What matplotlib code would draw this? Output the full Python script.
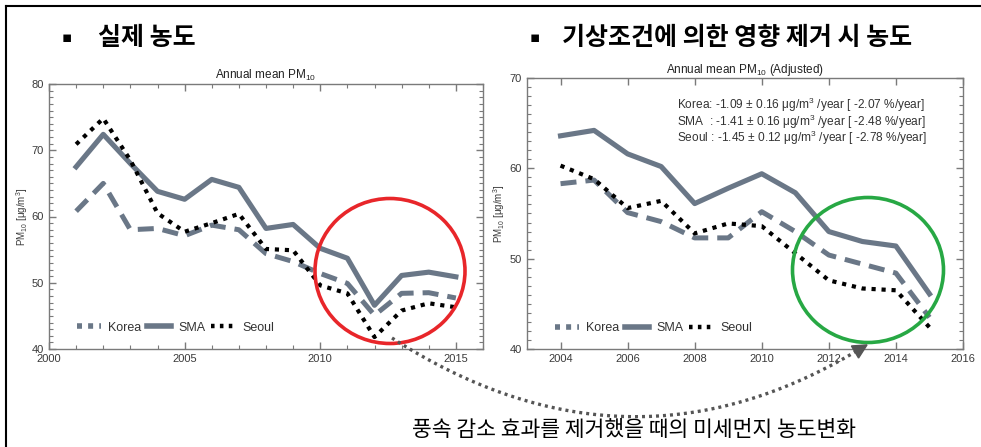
import numpy as np
import matplotlib.pyplot as plt
from matplotlib.patches import Ellipse, Polygon
from matplotlib.lines import Line2D
from matplotlib.ticker import MultipleLocator

plt.rcParams['font.family'] = ['Liberation Sans', 'DejaVu Sans']
plt.rcParams['mathtext.fontset'] = 'custom'
plt.rcParams['mathtext.rm'] = 'Liberation Sans'
plt.rcParams['mathtext.it'] = 'Liberation Sans:italic'
plt.rcParams['mathtext.bf'] = 'Liberation Sans:bold'

# 실제 농도 (연평균 PM10)
years_obs = list(range(2001, 2016))
korea_obs = [60.8, 65.0, 58.0, 58.2, 57.1, 58.7, 58.0, 54.4, 53.2, 51.4, 49.9, 45.1, 48.4, 48.5, 47.7]
sma_obs = [67.5, 72.4, 68.0, 63.8, 62.6, 65.6, 64.4, 58.2, 58.8, 55.2, 53.7, 46.6, 51.1, 51.6, 50.9]
seoul_obs = [70.9, 74.8, 68.5, 60.5, 57.7, 59.0, 60.4, 55.1, 54.9, 49.6, 48.4, 41.8, 45.8, 46.9, 46.3]

# 기상조건 영향 제거 후 농도
years_adj = list(range(2004, 2016))
korea_adj = [58.3, 58.7, 55.1, 54.1, 52.3, 52.3, 55.2, 53.0, 50.4, 49.4, 48.4, 43.5]
sma_adj = [63.6, 64.2, 61.6, 60.2, 56.1, 57.8, 59.4, 57.3, 53.0, 51.9, 51.4, 46.1]
seoul_adj = [60.3, 58.8, 55.6, 56.4, 52.8, 53.9, 53.6, 50.6, 47.6, 46.7, 46.5, 42.4]

series_names = ['Korea', 'SMA', 'Seoul']
trend_lines = [
    'Korea: -1.09 ± 0.16 μg/m$^3$ /year [ -2.07 %/year]',
    'SMA  : -1.41 ± 0.16 μg/m$^3$ /year [ -2.48 %/year]',
    'Seoul : -1.45 ± 0.12 μg/m$^3$ /year [ -2.78 %/year]',
]

W, H = 981, 447
grey = '#6a7787'
kr_font = ['Noto Sans CJK KR', 'DejaVu Sans']

fig = plt.figure(figsize=(W / 100, H / 100), dpi=100)
fig.patch.set_facecolor('white')


def add_axes_px(x0, y0, x1, y1):
    return fig.add_axes([x0 / W, 1 - y1 / H, (x1 - x0) / W, (y1 - y0) / H])


def style_axes(ax):
    for s in ax.spines.values():
        s.set_color('#7a7a7a')
        s.set_linewidth(1.0)
    ax.tick_params(which='both', direction='in', top=True, right=True,
                   colors='#7a7a7a', labelcolor='#3a3a3a', labelsize=8)
    ax.tick_params(which='major', length=5, width=1)
    ax.tick_params(which='minor', length=3, width=0.8)
    ax.yaxis.set_minor_locator(MultipleLocator(1))
    ax.set_ylabel('PM$_{10}$ [μg/m$^3$]', fontsize=7, color='#3a3a3a')


def draw_series(ax, years, korea, sma, seoul):
    ax.plot(years, korea, color=grey, lw=3.6, dashes=(3.2, 1.8))
    ax.plot(years, sma, color=grey, lw=3.7)
    ax.plot(years, seoul, color='black', lw=3.0, dashes=(1.0, 1.4))
    handles = [Line2D([], [], color=grey, lw=4, dashes=(0.9, 1.1)),
               Line2D([], [], color=grey, lw=4),
               Line2D([], [], color='black', lw=3.2, dashes=(0.8, 1.2))]
    return handles


def add_legend(ax, handles, y):
    ax.legend(handles, series_names, ncol=3, frameon=False, loc='center left',
              bbox_to_anchor=(0.064, y), handlelength=1.9, handletextpad=0.6,
              columnspacing=0.45, fontsize=9, borderaxespad=0, borderpad=0,
              labelcolor='#333333')


# 왼쪽: 실제 농도
ax1 = add_axes_px(49, 84, 483, 349)
h = draw_series(ax1, years_obs, korea_obs, sma_obs, seoul_obs)
ax1.set_xlim(2000, 2016)
ax1.set_ylim(40, 80)
ax1.xaxis.set_major_locator(MultipleLocator(5))
ax1.xaxis.set_minor_locator(MultipleLocator(1))
ax1.yaxis.set_major_locator(MultipleLocator(10))
style_axes(ax1)
ax1.yaxis.set_label_coords(-0.043, 0.5)
ax1.set_title('Annual mean PM$_{10}$', fontsize=8.5, color='#222222', pad=4)
add_legend(ax1, h, 0.08)

# 오른쪽: 기상 보정 농도
ax2 = add_axes_px(527, 78, 963, 349)
h = draw_series(ax2, years_adj, korea_adj, sma_adj, seoul_adj)
ax2.set_xlim(2003, 2016)
ax2.set_ylim(40, 70)
ax2.set_xticks(range(2004, 2017, 2))
ax2.yaxis.set_major_locator(MultipleLocator(10))
style_axes(ax2)
ax2.yaxis.set_label_coords(-0.045, 0.5)
ax2.set_title('Annual mean PM$_{10}$ (Adjusted)', fontsize=8.5, color='#222222', pad=3)
add_legend(ax2, h, 0.077)
for i, line in enumerate(trend_lines):
    ax2.text(0.344, 0.90 - i * 0.061, line, transform=ax2.transAxes,
             fontsize=8.6, color='#333333', va='center')

# 테두리, 제목, 원, 화살표
ov = fig.add_axes([0, 0, 1, 1])
ov.set_xlim(0, W)
ov.set_ylim(H, 0)
ov.axis('off')

ov.plot([6, W], [6, 6], color='black', lw=1.5)
ov.plot([6, 6], [6, H], color='black', lw=1.5)

ov.text(67, 38, '▪', fontsize=11, ha='center', va='center', family=['DejaVu Sans'])
ov.text(98, 38, '실제 농도', fontsize=18, fontweight='bold', va='center', family=kr_font)
ov.text(535, 38, '▪', fontsize=11, ha='center', va='center', family=['DejaVu Sans'])
ov.text(562, 38, '기상조건에 의한 영향 제거 시 농도', fontsize=18, fontweight='bold',
        va='center', family=kr_font)

ov.add_patch(Ellipse((390, 271), 150, 145, fill=False, ec='#e8262a', lw=2.6))
ov.add_patch(Ellipse((868, 270), 151, 145, fill=False, ec='#27a844', lw=2.6))

# 점선 곡선 화살표
t = np.linspace(0, 1, 100)
p0, p1, p2 = np.array([392, 338]), np.array([625, 488]), np.array([855, 352])
curve = np.outer((1 - t) ** 2, p0) + np.outer(2 * (1 - t) * t, p1) + np.outer(t ** 2, p2)
ov.plot(curve[:, 0], curve[:, 1], color='#555555', lw=2.4, dashes=(0.9, 1.2))
d = (p2 - p1) / np.linalg.norm(p2 - p1)
n = np.array([-d[1], d[0]])
tip = p2 + d * 14
ov.add_patch(Polygon([tip, p2 + n * 7, p2 - n * 7], closed=True, color='#555555'))

ov.text(634, 430, '풍속 감소 효과를 제거했을 때의 미세먼지 농도변화', ha='center', va='center',
        fontsize=15.5, family=kr_font, color='black')

fig.savefig('out.png', dpi=100)
